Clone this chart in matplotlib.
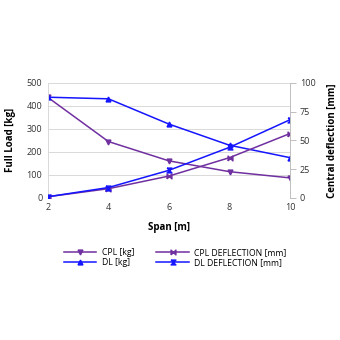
import matplotlib
matplotlib.use('Agg')
import matplotlib.pyplot as plt
from matplotlib.lines import Line2D

plt.rcParams['font.family'] = ['Open Sans', 'DejaVu Sans']

span = [2, 4, 6, 8, 10]
cpl_kg = [437, 245, 161, 114, 87]
dl_kg = [438, 431, 321, 229, 175]
cpl_defl = [1, 8, 19, 35, 56]
dl_defl = [1, 9, 24, 44, 68]

purple = '#7030a0'
blue = '#1515ff'

# custom markers: horizontal bowtie and vertical hourglass
bowtie = [(-1, -1), (-1, 1), (1, -1), (1, 1), (-1, -1)]
hourglass = [(-1, 1), (1, 1), (-1, -1), (1, -1), (-1, 1)]

fig = plt.figure(figsize=(3.4, 3.4), dpi=100)
ax = fig.add_axes([0.141, 0.418, 0.712, 0.338])
ax2 = ax.twinx()

ax.plot(span, cpl_kg, color=purple, marker='v', ms=3.5, lw=1.1, label='CPL [kg]')
ax.plot(span, dl_kg, color=blue, marker='^', ms=3.5, lw=1.1, label='DL [kg]')
ax2.plot(span, cpl_defl, color=purple, marker=bowtie, ms=3.5, lw=1.1, label='CPL DEFLECTION [mm]')
ax2.plot(span, dl_defl, color=blue, marker=hourglass, ms=3.5, lw=1.1, label='DL DEFLECTION [mm]')

ax.set_xlim(2, 10)
ax.set_ylim(0, 500)
ax2.set_ylim(0, 100)
ax.set_xticks(span)
ax.set_yticks(range(0, 501, 100))
ax2.set_yticks(range(0, 101, 25))
ax.yaxis.grid(True, color='#d9d9d9', lw=0.7)
ax.set_axisbelow(True)

for a in (ax, ax2):
    for s in ('top', 'bottom', 'left', 'right'):
        a.spines[s].set_visible(False)
ax.spines['left'].set_visible(True)
ax.spines['left'].set_color('#d9d9d9')
ax.spines['left'].set_linewidth(0.7)
ax2.spines['right'].set_visible(True)
ax2.spines['right'].set_color('#bfbfbf')
ax2.spines['right'].set_linewidth(0.7)

ax.tick_params(axis='both', length=0, labelsize=6.5, colors='#333333', pad=4)
ax2.tick_params(axis='y', length=4, width=0.7, color='#bfbfbf', labelsize=6.5,
                labelcolor='#333333', pad=3)

ax.set_xlabel('Span [m]', fontsize=7, fontweight='bold', labelpad=7)
ax.set_ylabel('Full Load [kg]', fontsize=7, fontweight='bold', labelpad=8)
ax2.set_ylabel('Central deflection [mm]', fontsize=7, fontweight='bold', labelpad=8)

handles = [
    Line2D([], [], color=purple, marker='v', ms=3.5, lw=1.1),
    Line2D([], [], color=blue, marker='^', ms=3.5, lw=1.1),
    Line2D([], [], color=purple, marker=bowtie, ms=3.5, lw=1.1),
    Line2D([], [], color=blue, marker=hourglass, ms=3.5, lw=1.1),
]
labels = ['CPL [kg]', 'DL [kg]', 'CPL DEFLECTION [mm]', 'DL DEFLECTION [mm]']
fig.legend(handles, labels, loc='upper center', bbox_to_anchor=(0.515, 0.292),
           ncol=2, frameon=False, fontsize=6.2, handlelength=3.8,
           columnspacing=2.6, labelspacing=0.05, handletextpad=0.6)

fig.savefig('out.png', dpi=100)
